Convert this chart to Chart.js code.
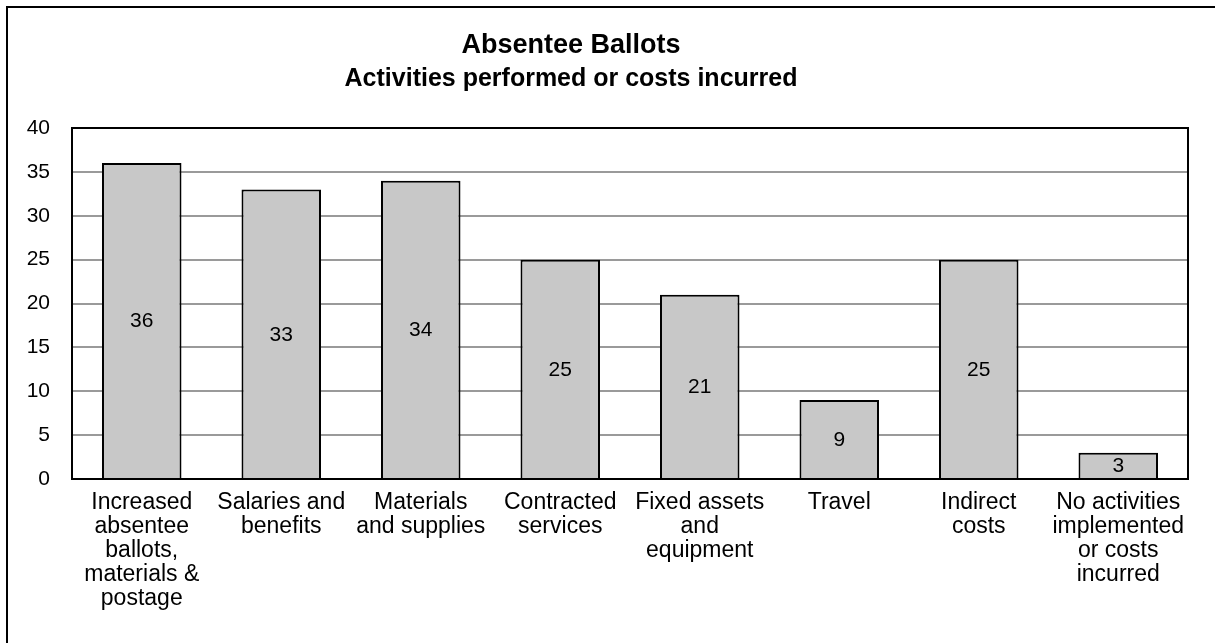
<!DOCTYPE html>
<html>
<head>
<meta charset="utf-8">
<script src="https://cdn.jsdelivr.net/npm/chart.js@4.4.0/dist/chart.umd.min.js"></script>
<style>
  html, body { margin: 0; padding: 0; background: #fff; overflow: hidden; }
  #wrap { position: relative; width: 1215px; height: 643px; }
  #frame { position: absolute; left: 6px; top: 6px; width: 1220px; height: 700px; border: 2px solid #000; box-sizing: border-box; }
  canvas { position: absolute; left: 0; top: 0; }
</style>
</head>
<body>
<div id="wrap">
  <div id="frame"></div>
  <canvas id="chart" width="1215" height="643"></canvas>
</div>
<script>
// chart data
var categories = [
	['Increased', 'absentee', 'ballots,', 'materials &', 'postage'],
	['Salaries and', 'benefits'],
	['Materials', 'and supplies'],
	['Contracted', 'services'],
	['Fixed assets', 'and', 'equipment'],
	['Travel'],
	['Indirect', 'costs'],
	['No activities', 'implemented', 'or costs', 'incurred']
];
var counts = [36, 33, 34, 25, 21, 9, 25, 3];
var titleLines = ['Absentee Ballots', 'Activities performed or costs incurred'];

var FONT = '"Liberation Sans", Arial, sans-serif';

// title, plot frame and value labels
var extras = {
	id: 'extras',
	afterDatasetsDraw: function(chart){
		var ctx = chart.ctx;
		var area = chart.chartArea;
		ctx.save();
		ctx.strokeStyle = '#000';
		ctx.lineWidth = 2;
		ctx.strokeRect(area.left, area.top, area.right - area.left, area.bottom - area.top);

		ctx.fillStyle = '#000';
		ctx.textAlign = 'center';
		ctx.textBaseline = 'middle';
		ctx.font = 'bold 27px ' + FONT;
		ctx.fillText(titleLines[0], 571, 46);
		ctx.font = 'bold 25px ' + FONT;
		ctx.fillText(titleLines[1], 571, 79);

		ctx.font = '21px ' + FONT;
		var meta = chart.getDatasetMeta(0);
		meta.data.forEach(function(bar, i){
			var mid = (bar.y + bar.base) / 2;
			ctx.fillText(String(counts[i]), bar.x, mid + 1);
		});
		ctx.restore();
	}
};

new Chart(document.getElementById('chart'), {
	type: 'bar',
	data: {
		labels: categories,
		datasets: [{
			data: counts,
			backgroundColor: '#c8c8c8',
			borderColor: '#000',
			borderWidth: 2,
			barPercentage: 0.57,
			categoryPercentage: 1
		}]
	},
	options: {
		responsive: false,
		animation: false,
		layout: { padding: { top: 128, right: 27, left: 8, bottom: 0 } },
		plugins: {
			legend: { display: false },
			tooltip: { enabled: false }
		},
		scales: {
			x: {
				grid: { display: false, drawTicks: false },
				border: { color: '#000', width: 2 },
				ticks: {
					color: '#000',
					font: { family: FONT, size: 23, lineHeight: 1.043 },
					padding: 12,
					maxRotation: 0,
					autoSkip: false
				},
				afterFit: function(scale){ scale.height = 164; }
			},
			y: {
				min: 0,
				max: 40,
				grid: { color: '#9a9a9a', lineWidth: 2, drawTicks: false },
				border: { color: '#000', width: 2 },
				ticks: {
					stepSize: 5,
					color: '#000',
					font: { family: FONT, size: 21 },
					padding: 22
				},
				afterFit: function(scale){ scale.width = 64; }
			}
		}
	},
	plugins: [extras]
});
</script>
</body>
</html>
